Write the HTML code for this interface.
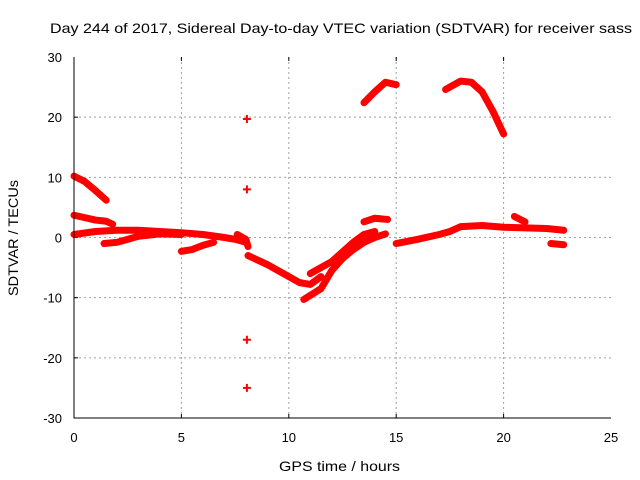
<!DOCTYPE html>
<html><head><meta charset="utf-8"><style>
body{margin:0;background:#fff;}
svg{display:block;font-family:"Liberation Sans",sans-serif;}
</style></head><body>
<svg id="chart" width="640" height="480">
<text x="50" y="33" font-size="14" textLength="582" lengthAdjust="spacingAndGlyphs">Day 244 of 2017, Sidereal Day-to-day VTEC variation (SDTVAR) for receiver sass</text>
<text x="279" y="471" font-size="14" textLength="121" lengthAdjust="spacingAndGlyphs">GPS time / hours</text>
<text transform="translate(18,296) rotate(-90)" font-size="14" textLength="116" lengthAdjust="spacingAndGlyphs">SDTVAR / TECUs</text>
<g id="grid"></g><g id="series"></g>
<path d="M74,57V418H611" fill="none" stroke="#000"/>
</svg>
<script>
const xTicks=[0,5,10,15,20,25];
const yTicks=[-30,-20,-10,0,10,20,30];
const trackA=[[0,10.2],[0.5,9.3],[1,7.8],[1.5,6.2]];
const trackB=[[0,3.7],[0.5,3.3],[1,2.9],[1.5,2.7],[1.8,2.2]];
const trackC=[[0,0.5],[1,1],[2,1.2],[3,1.2],[4,1],[5,0.8],[6,0.5],[7,0],[7.5,-0.3],[8,-0.8]];
const trackD=[[1.4,-1],[2,-0.8],[3,0.2],[4,0.6],[5,0.5]];
const trackE=[[5,-2.3],[5.5,-2],[6,-1.3],[6.5,-0.8]];
const trackF=[[7.6,0.5],[8,-0.3],[8.1,-1.5]];
const trackG=[[8.1,-3],[9,-4.5],[10,-6.5],[10.5,-7.5],[11,-7.8],[11.5,-6.5]];
const trackH=[[10.7,-10.3],[11.5,-8.5],[12,-5.5],[12.5,-3.5],[13,-2],[13.5,-0.8],[14,0],[14.5,0.6]];
const trackI=[[11,-6],[12,-4],[13,-0.8],[13.5,0.5],[14,1]];
const trackJ=[[13.5,2.6],[14,3.2],[14.6,3]];
const trackK=[[15,-1],[16,-0.3],[17,0.5],[17.5,1],[18,1.8],[19,2],[20,1.7],[21,1.6],[22,1.5],[22.8,1.2]];
const trackL=[[20.5,3.5],[21,2.6]];
const trackM=[[22.2,-1],[22.8,-1.2]];
const trackN=[[13.5,22.4],[14,24.2],[14.5,25.8],[15,25.4]];
const trackO=[[17.3,24.6],[18,26],[18.5,25.8],[19,24.2],[19.5,21],[20,17.2]];
const isolated=[[8.05,19.7],[8.05,8],[8.05,-17],[8.05,-25]];
const tracks=[trackA,trackB,trackC,trackD,trackE,trackF,trackG,trackH,trackI,trackJ,trackK,trackL,trackM,trackN,trackO];
const NS="http://www.w3.org/2000/svg";
const X=v=>74+v*(537/25), Y=v=>237.5-v*(361/60);
const grid=document.getElementById('grid'), ser=document.getElementById('series'), svg=document.getElementById('chart');
function mk(t,a,p){const e=document.createElementNS(NS,t);for(const k in a)e.setAttribute(k,a[k]);p.appendChild(e);return e;}
xTicks.forEach(t=>{
 if(t>0&&t<25){const l=mk('line',{x1:X(t),x2:X(t),y1:57,y2:418,stroke:'#a0a0a0','stroke-dasharray':'2,3'},grid);
 
 
 const tk=mk('path',{d:`M${X(t)},418v-4M${X(t)},57v4`,stroke:'#000'},grid);
 
 }
 const tx=mk('text',{x:X(t),y:442,'font-size':13,'text-anchor':'middle'},svg);tx.textContent=t;
 
 
});
yTicks.forEach(t=>{
 if(t>-30&&t<30){const l=mk('line',{x1:74,x2:611,y1:Y(t),y2:Y(t),stroke:'#a0a0a0','stroke-dasharray':'2,3'},grid);
 
 
 const tk=mk('path',{d:`M74,${Y(t)}h4`,stroke:'#000'},grid);
 
 }
 const tx=mk('text',{x:62,y:Y(t)+5,'font-size':13,'text-anchor':'end'},svg);tx.textContent=t;
 
 
});
tracks.forEach(tr=>{
 const p=mk('polyline',{points:tr.map(d=>X(d[0])+','+Y(d[1])).join(' '),fill:'none',stroke:'#ff0000','stroke-width':7,'stroke-linejoin':'round','stroke-linecap':'round'},ser);
 
 
});
isolated.forEach(d=>{
 const g=mk('path',{d:`M${X(d[0])-4},${Y(d[1])}h8M${X(d[0])},${Y(d[1])-4}v8`,stroke:'#ff0000','stroke-width':2},ser);
 
 
});
</script>
</body></html>
